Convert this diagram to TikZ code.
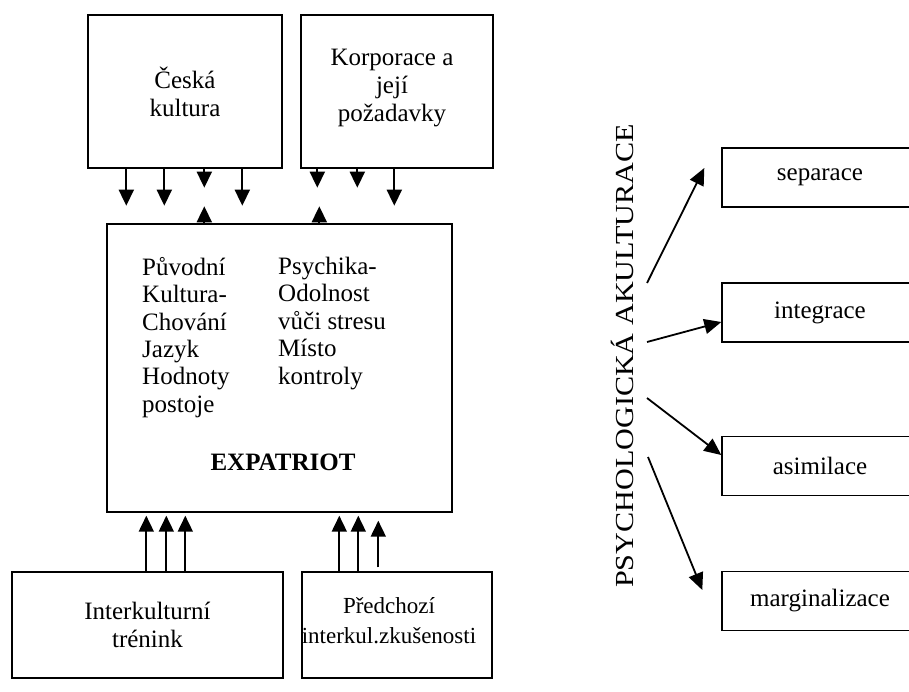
\documentclass[tikz,border=0pt]{standalone}
\usepackage{fontspec}
\setmainfont{Liberation Serif}
\usetikzlibrary{arrows.meta,calc}
\begin{document}
\begin{tikzpicture}[x=1pt,y=-1pt,
  box/.style={draw, line width=1.4pt, inner sep=0pt, align=center, font=\fontsize{25}{28}\selectfont},
  lbl/.style={inner sep=0pt, align=center, font=\fontsize{25}{28}\selectfont},
  rbox/.style={box, minimum width=196pt, minimum height=59pt},
  txt/.style={inner sep=0pt, align=left, font=\fontsize{25}{27.4}\selectfont},
  arr/.style={line width=1.8pt, -{Triangle[length=16pt,width=15pt]}},
  rarr/.style={line width=1.8pt, -{Triangle[length=17pt,width=15pt]}}]
\useasboundingbox (0,0) rectangle (909,692);
\clip (0,0) rectangle (909,692);
\fill[white] (0,0) rectangle (909,692);

% top boxes
\node[box, minimum width=194pt, minimum height=153pt] (cz) at (185,91.5) {Česká\\kultura};
\node[box, minimum width=192pt, minimum height=153pt] (kor) at (397,91.5) {};
\node[lbl] (korT) at (392,88.5) {Korporace a\\její\\požadavky};

% expatriot
\node[box, minimum width=345pt, minimum height=288pt] (exp) at (279.5,368) {};
\node[txt, anchor=north west] (c1) at (142,257) {Původní\\Kultura-\\Chování\\Jazyk\\Hodnoty\\postoje};
\node[txt, anchor=north west] (c2) at (278,257) {Psychika-\\Odolnost\\vůči stresu\\Místo\\kontroly};
\node[inner sep=0pt, font=\fontsize{25}{28}\selectfont\bfseries] (ex) at (283,462) {EXPATRIOT};

% bottom boxes
\node[box, minimum width=271pt, minimum height=106pt] (itr) at (147.5,625) {Interkulturní\\trénink};
\node[box, minimum width=190pt, minimum height=106pt] (pre) at (397,625) {};
\node[lbl, font=\fontsize{23}{30}\selectfont] (preT) at (389,621) {Předchozí\\interkul.zkušenosti};

% arrows top-down
\draw[arr] ($(cz.south west)+(39,0)$) -- ++(0,37);
\draw[arr] ($(cz.south west)+(77,0)$) -- ++(0,37);
\draw[arr] ($(cz.south west)+(117,0)$) -- ++(0,19);
\draw[arr] ($(cz.south west)+(155,0)$) -- ++(0,37);
\draw[arr] ($(kor.south west)+(17,0)$) -- ++(0,19);
\draw[arr] ($(kor.south west)+(57,0)$) -- ++(0,19);
\draw[arr] ($(kor.south west)+(94,0)$) -- ++(0,37);
% arrows up from expatriot top
\draw[arr] ($(exp.north west)+(98,0)$) -- ++(0,-17);
\draw[arr] ($(exp.north west)+(213,0)$) -- ++(0,-17);

% arrows from bottom boxes
\draw[arr] ($(itr.north west)+(135,0)$) -- ($(exp.south west)+(40,3)$);
\draw[arr] ($(itr.north west)+(155,0)$) -- ($(exp.south west)+(60,3)$);
\draw[arr] ($(itr.north west)+(174,0)$) -- ($(exp.south west)+(79,3)$);
\draw[arr] ($(pre.north west)+(38,0)$) -- ($(exp.south west)+(233,3)$);
\draw[arr] ($(pre.north west)+(57,0)$) -- ($(exp.south west)+(252,3)$);
\draw[arr] ($(pre.north west)+(77,-4)$) -- ($(exp.south west)+(272,8)$);

% right side
\node[rotate=90, inner sep=0pt, font=\fontsize{26}{30}\selectfont] (pa) at (622,356) {\scalebox{1.16}[1]{PSYCHOLOGICKÁ AKULTURACE}};
\node[rbox] (sep) at (820,177.5) {separace};
\node[rbox] (int) at (820,312.5) {integrace};
\node[rbox] (asi) at (820,466) {asimilace};
\node[rbox] (mar) at (820,601) {marginalizace};

\coordinate (s1) at (647,283);
\coordinate (s2) at (647,342);
\coordinate (s3) at (647,398);
\coordinate (s4) at (648,457);
\draw[rarr] (s1) -- ($(sep.west)+(-17,-9.5)$);
\draw[rarr] (s2) -- ($(int.west)+(0,9.5)$);
\draw[rarr] (s3) -- ($(asi.west)+(0,-11)$);
\draw[rarr] (s4) -- ($(mar.west)+(-19,-11)$);
\end{tikzpicture}
\end{document}
